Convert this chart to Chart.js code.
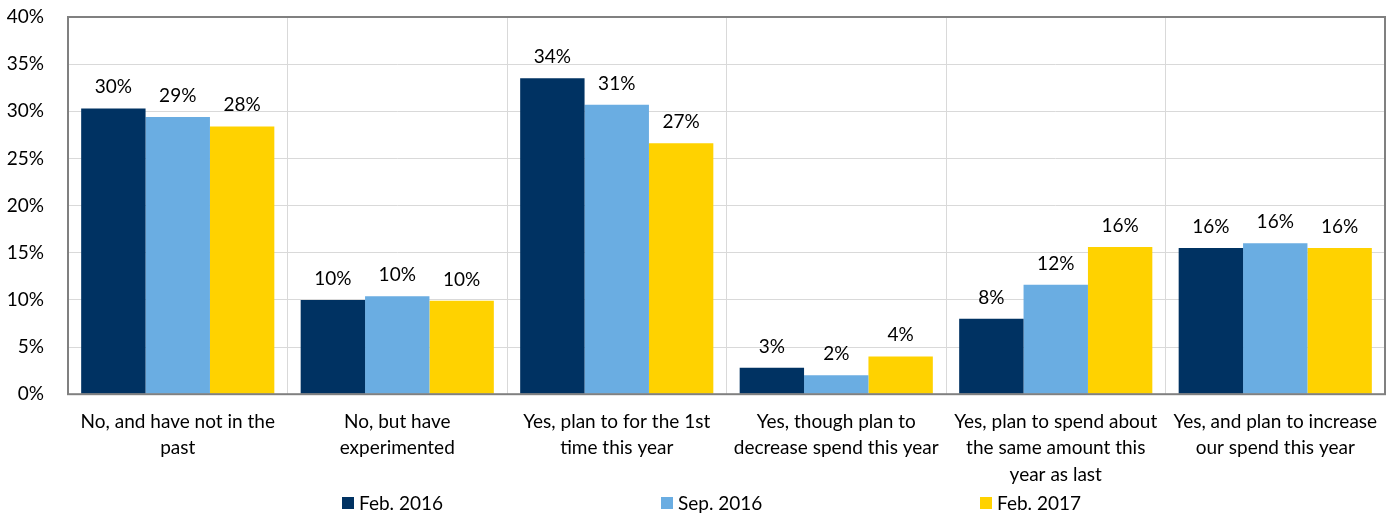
<!DOCTYPE html>
<html>
<head>
<meta charset="utf-8">
<script src="https://cdn.jsdelivr.net/npm/chart.js@4/dist/chart.umd.min.js"></script>
<style>
  html, body { margin: 0; padding: 0; background: #fff; }
  #wrap { width: 1398px; height: 514px; }
</style>
</head>
<body>
<div id="wrap"><canvas id="chart"></canvas></div>
<script>
const categories = [
  ["No, and have not in the", "past"],
  ["No, but have", "experimented"],
  ["Yes, plan to for the 1st", "time this year"],
  ["Yes, though plan to", "decrease spend this year"],
  ["Yes, plan to spend about", "the same amount this", "year as last"],
  ["Yes, and plan to increase", "our spend this year"]
];
const seriesNames = ["Feb. 2016", "Sep. 2016", "Feb. 2017"];
const feb2016 = [30.3, 10.0, 33.5, 2.8, 8.0, 15.5];
const sep2016 = [29.4, 10.4, 30.7, 2.0, 11.6, 16.0];
const feb2017 = [28.4, 9.9, 26.6, 4.0, 15.6, 15.5];
const yTicks = [0, 5, 10, 15, 20, 25, 30, 35, 40];

const colors = ["#003262", "#6aade2", "#ffd200"];
const FONT = "Lato, 'Open Sans', sans-serif";
const FSIZE = 19;

// value labels above each bar
const barLabels = {
  id: "barLabels",
  afterDatasetsDraw(chart) {
    const ctx = chart.ctx;
    ctx.save();
    ctx.font = FSIZE + "px " + FONT;
    ctx.fillStyle = "#000";
    ctx.textAlign = "center";
    ctx.textBaseline = "alphabetic";
    chart.data.datasets.forEach((ds, i) => {
      chart.getDatasetMeta(i).data.forEach((bar, j) => {
        ctx.fillText(Math.round(ds.data[j]) + "%", bar.x, bar.y - 15);
      });
    });
    ctx.restore();
  }
};

// grey frame round the plot area
const plotBorder = {
  id: "plotBorder",
  afterDraw(chart) {
    const a = chart.chartArea;
    const ctx = chart.ctx;
    ctx.save();
    ctx.strokeStyle = "#808080";
    ctx.lineWidth = 2;
    ctx.strokeRect(a.left, a.top, a.right - a.left, a.bottom - a.top);
    ctx.restore();
  }
};

// legend spread wide along the bottom, like the original
const wideLegend = {
  id: "wideLegend",
  afterDraw(chart) {
    const ctx = chart.ctx;
    const step = 319;
    const x0 = 342;
    const y = 503;
    ctx.save();
    ctx.font = FSIZE + "px " + FONT;
    ctx.textBaseline = "middle";
    ctx.textAlign = "left";
    chart.data.datasets.forEach((ds, i) => {
      const x = x0 + i * step;
      ctx.fillStyle = ds.backgroundColor;
      ctx.fillRect(x, y - 6, 12, 12);
      ctx.fillStyle = "#000";
      ctx.fillText(ds.label, x + 17, y + 1);
    });
    ctx.restore();
  }
};

new Chart(document.getElementById("chart"), {
  type: "bar",
  data: {
    labels: categories,
    datasets: [feb2016, sep2016, feb2017].map((d, i) => ({
      label: seriesNames[i],
      data: d,
      backgroundColor: colors[i],
      categoryPercentage: 0.88,
      barPercentage: 1.0
    }))
  },
  options: {
    responsive: true,
    maintainAspectRatio: false,
    animation: false,
    layout: { padding: { left: 4, right: 13, top: 17, bottom: 12 } },
    plugins: {
      legend: { display: false },
      tooltip: { enabled: false }
    },
    scales: {
      x: {
        afterFit(scale) {
          scale.paddingLeft = 0;
          scale.paddingRight = 0;
        },
        grid: { color: "#d9d9d9", offset: true, drawTicks: false },
        border: { display: false },
        ticks: {
          font: { family: FONT, size: FSIZE, lineHeight: 1.4 },
          color: "#000",
          maxRotation: 0,
          autoSkip: false,
          padding: 14
        }
      },
      y: {
        min: 0,
        max: 40,
        afterBuildTicks(scale) {
          scale.ticks = yTicks.map(v => ({ value: v }));
        },
        afterFit(scale) {
          scale.width = 64;
          scale.paddingTop = 0;
          scale.paddingBottom = 0;
        },
        grid: { color: "#d9d9d9", drawTicks: false },
        border: { display: false },
        ticks: {
          font: { family: FONT, size: FSIZE },
          color: "#000",
          padding: 24,
          callback: v => v + "%"
        }
      }
    }
  },
  plugins: [barLabels, plotBorder, wideLegend]
});
</script>
</body>
</html>
